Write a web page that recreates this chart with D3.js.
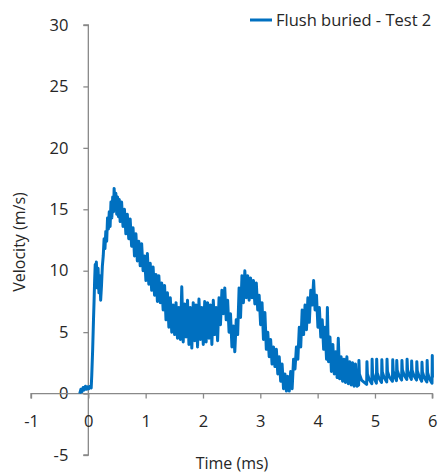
<!DOCTYPE html>
<html>
<head>
<meta charset="utf-8">
<script src="https://cdn.jsdelivr.net/npm/d3@7"></script>
<style>
  html, body { margin: 0; padding: 0; background: #ffffff; }
  svg { display: block; }
  text { font-family: "Open Sans", "Liberation Sans", sans-serif; fill: #262626; }
</style>
</head>
<body>
<svg id="chart" width="448" height="473"></svg>
<script>
// ---------- data ----------
const seriesName = "Flush buried - Test 2";
const xTicks = [-1, 0, 1, 2, 3, 4, 5, 6];
const yTicks = [-5, 0, 5, 10, 15, 20, 25, 30];
const xTitle = "Time (ms)";
const yTitle = "Velocity (m/s)";

// [time (ms), velocity (m/s)]
const signal = [
  [-0.15,0.0],[-0.13,0.35],[-0.11,0.15],[-0.09,0.5],[-0.07,0.3],[-0.05,0.6],[-0.03,0.35],[-0.01,0.55],
  [0.01,0.4],[0.03,0.6],[0.05,0.45],[0.06,1.5],[0.075,3.5],[0.09,6.0],[0.10,7.5],[0.11,9.2],
  [0.12,10.5],[0.13,9.0],[0.14,10.7],[0.155,8.6],[0.17,10.2],[0.185,8.2],[0.20,9.6],[0.215,7.6],
  [0.23,8.8],[0.245,10.4],[0.26,11.2],[0.275,12.6],[0.29,11.8],[0.305,13.2],[0.32,12.4],[0.335,14.3],
  [0.35,13.4],[0.365,14.8],[0.38,13.6],[0.395,15.6],[0.41,14.3],[0.425,16.0],[0.44,14.8],[0.45,16.7],
  [0.465,15.2],[0.48,16.3],[0.495,14.6],[0.51,16.0],[0.525,14.4],[0.54,15.8],
  [0.555,14.0],[0.58,15.6],[0.605,13.6],[0.63,15.0],[0.655,13.0],[0.68,14.6],[0.705,12.6],[0.73,14.2],
  [0.755,12.0],[0.78,13.5],[0.805,11.2],[0.83,13.0],[0.855,10.8],[0.88,12.4],[0.905,10.4],[0.93,12.2],
  [0.955,10.0],[0.98,11.2],[1.005,9.2],[1.03,11.4],[1.055,8.9],[1.08,10.6],[1.105,8.4],[1.13,10.3],
  [1.155,8.0],[1.18,9.7],[1.205,7.5],[1.23,9.6],[1.255,7.4],[1.28,9.0],[1.305,6.8],[1.33,8.8],
  [1.355,6.0],[1.38,8.2],[1.405,5.4],[1.43,7.8],[1.455,5.0],[1.48,7.2],[1.505,4.8],[1.53,7.4],
  [1.555,4.5],[1.58,7.0],[1.605,4.4],[1.63,8.7],[1.655,4.2],[1.68,7.3],[1.705,4.6],[1.73,7.6],
  [1.755,4.0],[1.78,7.0],[1.805,3.7],[1.83,7.4],[1.855,4.3],[1.88,7.2],[1.905,3.8],[1.93,7.7],
  [1.955,4.4],[1.98,7.0],[2.005,4.0],[2.03,7.5],[2.055,4.2],[2.08,7.4],[2.105,4.5],[2.13,7.2],
  [2.155,4.0],[2.18,7.6],[2.205,4.8],[2.23,7.0],[2.255,4.3],[2.28,7.8],[2.305,5.6],[2.33,8.4],
  [2.355,6.5],[2.38,8.6],[2.405,6.0],[2.43,7.6],[2.455,5.0],[2.48,6.5],[2.505,3.8],[2.53,5.5],
  [2.555,3.4],[2.58,6.0],[2.605,4.8],[2.63,8.6],[2.655,6.2],[2.68,9.6],[2.705,7.4],[2.73,10.0],
  [2.755,7.8],[2.78,9.6],[2.805,7.6],[2.83,9.4],[2.855,7.8],[2.88,9.2],[2.905,7.3],[2.93,9.0],
  [2.955,6.8],[2.98,8.0],[3.005,5.6],[3.03,7.4],[3.055,4.4],[3.08,6.6],[3.105,3.6],[3.13,5.0],
  [3.155,3.0],[3.18,4.4],[3.205,2.4],[3.23,3.8],[3.255,2.2],[3.28,3.6],[3.305,1.6],[3.33,3.0],
  [3.355,1.0],[3.38,2.4],[3.405,0.4],[3.43,1.6],[3.455,0.2],[3.48,1.4],[3.505,0.2],[3.53,1.8],
  [3.555,0.4],[3.58,2.8],[3.605,2.0],[3.63,3.8],[3.655,2.8],[3.68,5.4],[3.705,3.8],[3.73,6.8],
  [3.755,4.8],[3.78,7.2],[3.805,5.2],[3.83,7.8],[3.855,5.8],[3.88,8.4],[3.905,7.2],[3.93,9.2],
  [3.955,6.8],[3.98,8.0],[4.005,5.4],[4.03,7.0],[4.055,4.6],[4.08,6.0],[4.105,3.6],[4.13,5.4],
  [4.155,2.8],[4.17,7.0],[4.19,2.6],[4.215,4.6],[4.24,1.8],[4.265,4.0],[4.29,1.6],[4.315,3.4],
  [4.34,1.3],[4.36,4.5],[4.385,1.2],[4.41,3.0],[4.435,1.0],[4.46,2.8],[4.485,0.9],[4.51,3.0],
  [4.535,0.8],[4.56,2.6],[4.585,0.7],[4.61,2.5],[4.635,0.6],[4.66,2.4],[4.685,0.6],
  [4.715,0.7],[4.72,2.7],[4.728,1.6],[4.765,1.1],[4.855,0.75],
  [4.86,2.6],[4.868,1.6],[4.90,1.15],[4.945,0.8],
  [4.95,2.8],[4.958,1.65],[4.99,1.2],[5.025,0.85],
  [5.03,2.8],[5.038,1.7],[5.07,1.25],[5.115,0.9],
  [5.12,2.75],[5.128,1.75],[5.16,1.3],[5.205,0.95],
  [5.21,2.8],[5.218,1.8],[5.25,1.35],[5.305,1.0],
  [5.31,2.75],[5.318,1.85],[5.345,1.4],[5.375,1.05],
  [5.38,2.7],[5.388,1.9],[5.42,1.45],[5.465,1.1],
  [5.47,2.7],[5.478,1.95],[5.51,1.5],[5.555,1.15],
  [5.56,2.8],[5.568,1.95],[5.60,1.5],[5.635,1.15],
  [5.64,2.65],[5.648,1.9],[5.68,1.45],[5.725,1.1],
  [5.73,2.6],[5.738,1.85],[5.77,1.4],[5.815,1.0],
  [5.82,2.55],[5.828,1.75],[5.86,1.3],[5.905,0.95],
  [5.91,2.7],[5.918,1.7],[5.95,1.2],[5.995,0.85],
  [6.0,3.1],[6.003,1.3]
];

// ---------- layout ----------
const svg = d3.select("#chart");

const x = d3.scaleLinear().domain([-1, 6]).range([31, 432.3]);
const y = d3.scaleLinear().domain([-5, 30]).range([455, 25]);

const axisColor = "#898989";
const lineColor = "#0070C0";
const font = "'Open Sans', 'Liberation Sans', sans-serif";

// Y axis positioned at x = 0
const yAxis = d3.axisLeft(y).tickValues(yTicks).tickSize(5).tickPadding(15);
const gy = svg.append("g").attr("transform", `translate(${x(0)},0)`).call(yAxis);
gy.select(".domain").attr("stroke", axisColor).attr("stroke-width", 1.3).attr("d", `M-5,${y(30)}H0V${y(-5)}H-5`);
gy.selectAll(".tick line").attr("stroke", axisColor).attr("stroke-width", 1.3);
gy.selectAll(".tick text").attr("font-size", 16.5).attr("fill", "#262626").attr("font-family", font)
  .text(d => d < 0 ? "-" + Math.abs(d) : d);

// X axis positioned at y = 0
const xAxis = d3.axisBottom(x).tickValues(xTicks).tickSize(5).tickPadding(17);
const gx = svg.append("g").attr("transform", `translate(0,${y(0)})`).call(xAxis);
gx.select(".domain").attr("stroke", axisColor).attr("stroke-width", 1.3).attr("d", `M${x(-1)},5V0H${x(6)}V5`);
gx.selectAll(".tick line").attr("stroke", axisColor).attr("stroke-width", 1.3);
gx.selectAll(".tick text").attr("font-size", 16.5).attr("fill", "#262626").attr("font-family", font)
  .text(d => d < 0 ? "-" + Math.abs(d) : d);

// data line
const line = d3.line().x(d => x(d[0])).y(d => y(d[1]));
svg.append("path")
  .datum(signal)
  .attr("fill", "none")
  .attr("stroke", lineColor)
  .attr("stroke-width", 3)
  .attr("stroke-linejoin", "round")
  .attr("d", line);

// axis titles
svg.append("text")
  .attr("x", 232).attr("y", 469)
  .attr("text-anchor", "middle").attr("font-size", 16)
  .text(xTitle);
svg.append("text")
  .attr("transform", `translate(25,242) rotate(-90)`)
  .attr("text-anchor", "middle").attr("font-size", 16)
  .text(yTitle);

// legend
const lg = svg.append("g");
lg.append("line").attr("x1", 250).attr("x2", 272).attr("y1", 20).attr("y2", 20)
  .attr("stroke", lineColor).attr("stroke-width", 3);
lg.append("text").attr("x", 276).attr("y", 26).attr("font-size", 16.5).text(seriesName);
</script>
</body>
</html>
